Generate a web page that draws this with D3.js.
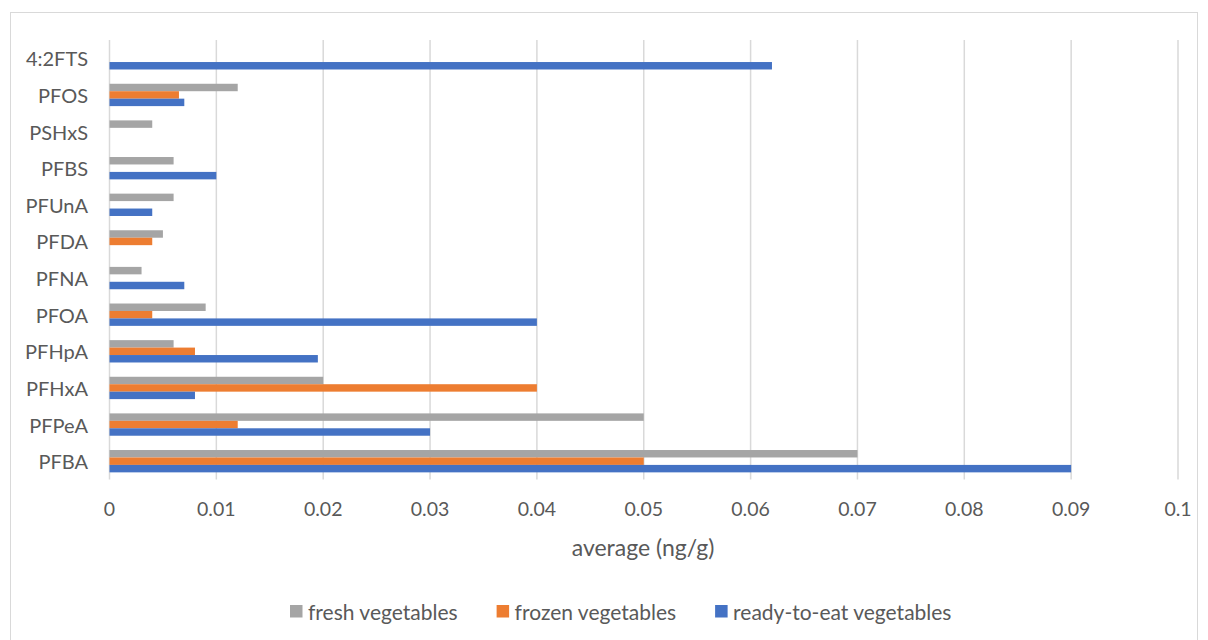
<!DOCTYPE html>
<html><head><meta charset="utf-8">
<script src="https://cdn.jsdelivr.net/npm/d3@7/dist/d3.min.js"></script>
<style>body{margin:0;background:#fff}svg{display:block}text{font-family:Lato,sans-serif;fill:#595959}</style>
</head><body><svg id="c" width="1208" height="640"></svg>
<script>
const categories = ["4:2FTS","PFOS","PSHxS","PFBS","PFUnA","PFDA","PFNA","PFOA","PFHpA","PFHxA","PFPeA","PFBA"];
const seriesNames = ["fresh vegetables","frozen vegetables","ready-to-eat vegetables"];
const fresh = [0,0.012,0.004,0.006,0.006,0.005,0.003,0.009,0.006,0.02,0.05,0.07];
const frozen = [0,0.0065,0,0,0,0.004,0,0.004,0.008,0.04,0.012,0.05];
const readyToEat = [0.062,0.007,0,0.01,0.004,0,0.007,0.04,0.0195,0.008,0.03,0.09];
const xTicks = [0,0.01,0.02,0.03,0.04,0.05,0.06,0.07,0.08,0.09,0.1];
const colors = ["#A5A5A5","#ED7D31","#4472C4"];
const seriesVals = [fresh, frozen, readyToEat];

const svg = d3.select("#c");
svg.append("rect").attr("x",10.5).attr("y",12.5).attr("width",1187).attr("height",640).attr("fill","none").attr("stroke","#D9D9D9");

const x = d3.scaleLinear().domain([0,0.1]).range([109.5,1178]);
const y = d3.scaleBand().domain(categories).range([40,479.5]).paddingInner(0.39).paddingOuter(0.195);
const sub = d3.scaleBand().domain(seriesNames).range([0,y.bandwidth()]);

// gridlines
svg.append("g").selectAll("line").data(xTicks).join("line")
  .attr("x1",d=>x(d)).attr("x2",d=>x(d)).attr("y1",40).attr("y2",479.5)
  .attr("stroke","#D9D9D9").attr("stroke-width",1.5);

// bars
const g = svg.append("g");
categories.forEach((c,i)=>{
  seriesNames.forEach((s,j)=>{
    const v = seriesVals[j][i];
    if(v>0) g.append("rect").attr("x",x(0)).attr("y",y(c)+sub(s)).attr("width",x(v)-x(0)).attr("height",sub.bandwidth()).attr("fill",colors[j]);
  });
});

// category axis labels
svg.append("g").selectAll("text").data(categories).join("text")
  .attr("x",88).attr("y",d=>y(d)+y.bandwidth()/2).attr("text-anchor","end").attr("dominant-baseline","central")
  .attr("font-size",20).text(d=>d);

// x tick labels
svg.append("g").selectAll("text").data(xTicks).join("text")
  .attr("x",d=>x(d)).attr("y",508).attr("text-anchor","middle").attr("dominant-baseline","central")
  .attr("font-size",19.5).text(d=>d3.format("~g")(d));

svg.append("text").attr("x",643).attr("y",547).attr("text-anchor","middle").attr("dominant-baseline","central")
  .attr("font-size",23).text("average (ng/g)");

// legend
const leg = svg.append("g");
let lx = 290;
seriesNames.forEach((s,j)=>{
  leg.append("rect").attr("x",lx).attr("y",605).attr("width",12.5).attr("height",12.5).attr("fill",colors[j]);
  const t = leg.append("text").attr("x",lx+18).attr("y",611.5).attr("dominant-baseline","central").attr("font-size",21).text(s);
  lx += 18 + t.node().getComputedTextLength() + 39;
});
</script></body></html>
